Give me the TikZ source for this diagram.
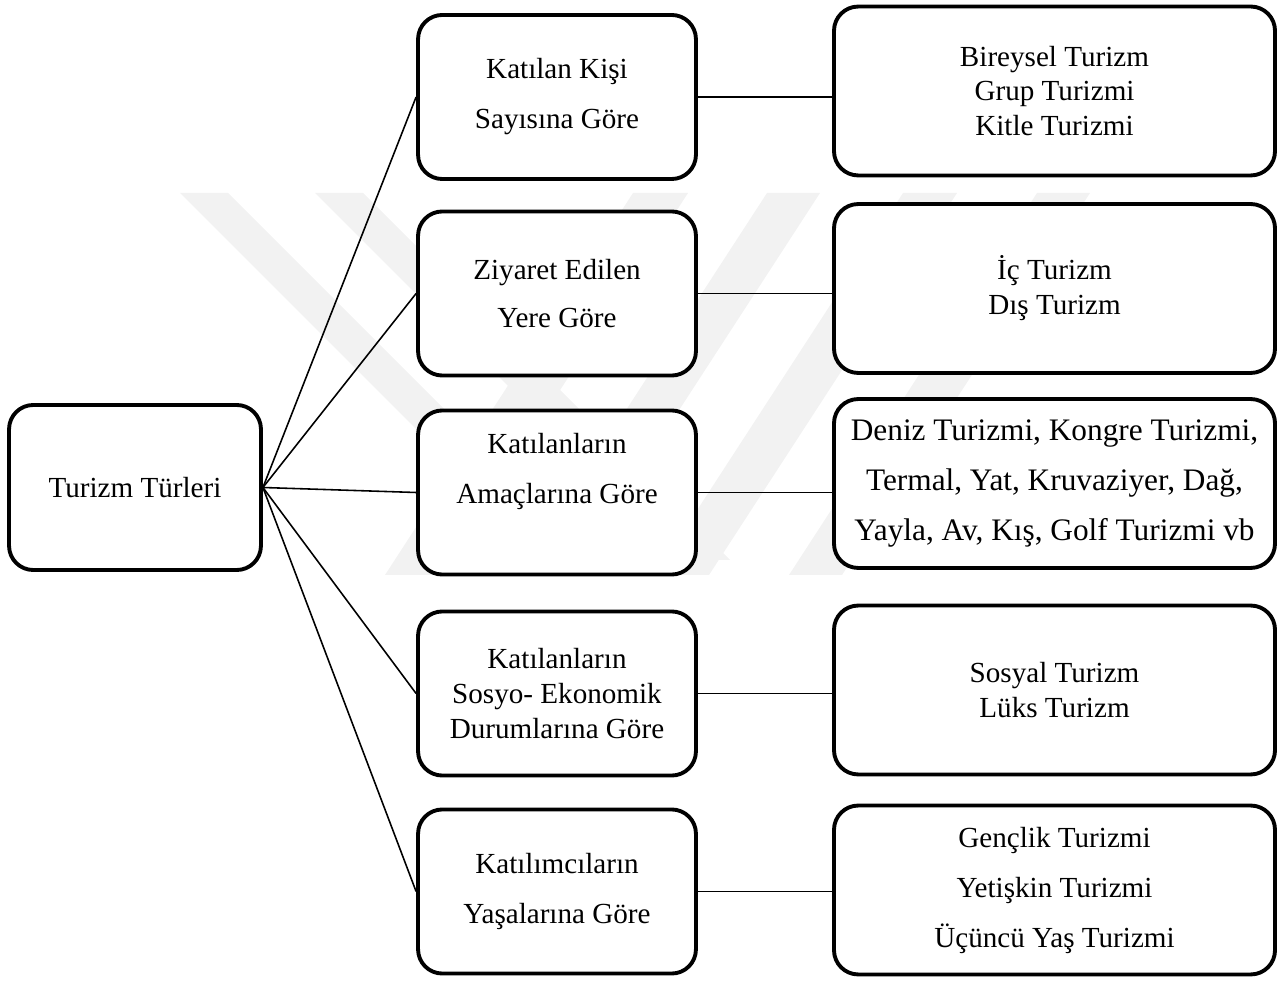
\documentclass[tikz,border=0pt]{standalone}
\usepackage{fontspec}
\setmainfont{Liberation Serif}
\usetikzlibrary{shapes,arrows,positioning,calc}

\tikzset{
  box/.style={draw, rectangle, rounded corners=10pt, line width=1.6pt, fill=white, align=center, inner sep=2pt},
  rootbox/.style={box, minimum width=103.8pt, minimum height=68pt},
  midbox/.style={box, minimum width=114.5pt, minimum height=67.6pt},
  sidebox/.style={box, minimum width=181.7pt, minimum height=69.6pt},
  wide/.style={font=\fontsize{12}{20.6}\selectfont},
  tight/.style={font=\fontsize{12}{14.4}\selectfont},
  link/.style={line width=0.65pt},
  wmark/.style={fill=black!5, draw=none}
}

\begin{document}
\begin{tikzpicture}[x=0.412pt, y=-0.412pt]

\useasboundingbox (0,0) rectangle (1279,981);

% faint watermark behind the boxes
\fill[wmark] (180,193) -- (228,193) -- (595,560) -- (547,560) -- cycle;
\fill[wmark] (315,193) -- (363,193) -- (730,560) -- (682,560) -- cycle;
\fill[wmark] (633,193) -- (688,193) -- (440,575) -- (385,575) -- cycle;
\fill[wmark] (767,193) -- (820,193) -- (572,575) -- (519,575) -- cycle;
\fill[wmark] (903,193) -- (957,193) -- (709,575) -- (655,575) -- cycle;
\fill[wmark] (1037,193) -- (1090,193) -- (842,575) -- (789,575) -- cycle;

\node[rootbox, wide] (root) at (135,487.5) {Turizm Türleri};

\node[midbox, wide] (kisi) at (557,97) {Katılan Kişi\\Sayısına Göre};
\node[midbox, font=\fontsize{12}{19.8}\selectfont] (yer) at (557,293.5) {Ziyaret Edilen\\Yere Göre};
\node[midbox, wide, text depth=20pt] (amac) at (557,492.5) {Katılanların\\Amaçlarına Göre};
\node[midbox, tight] (sosyo) at (557,693.5) {Katılanların\\Sosyo- Ekonomik\\Durumlarına Göre};
\node[midbox, wide] (yas) at (557,891.5) {Katılımcıların\\Yaşalarına Göre};

\node[sidebox, tight] (bireysel) at (1054.5,91) {Bireysel Turizm\\Grup Turizmi\\Kitle Turizmi};
\node[sidebox, tight] (ic) at (1054.5,288.5) {İç Turizm\\Dış Turizm};
\node[sidebox, font=\fontsize{12.9}{20.6}\selectfont] (deniz) at (1054.5,483.5) {Deniz Turizmi, Kongre Turizmi,\\Termal, Yat, Kruvaziyer, Dağ,\\Yayla, Av, Kış, Golf Turizmi vb};
\node[sidebox, tight] (sosyal) at (1054.5,690) {Sosyal Turizm\\Lüks Turizm};
\node[sidebox, wide] (genclik) at (1054.5,890) {Gençlik Turizmi\\Yetişkin Turizmi\\Üçüncü Yaş Turizmi};

\draw[link] (root.east) -- (kisi.west);
\draw[link] (root.east) -- (yer.west);
\draw[link] (root.east) -- (amac.west);
\draw[link] (root.east) -- (sosyo.west);
\draw[link] (root.east) -- (yas.west);

\draw[link] (kisi.east) -- (kisi.east -| bireysel.west);
\draw[link] (yer.east) -- (yer.east -| ic.west);
\draw[link] (amac.east) -- (amac.east -| deniz.west);
\draw[link] (sosyo.east) -- (sosyo.east -| sosyal.west);
\draw[link] (yas.east) -- (yas.east -| genclik.west);

\end{tikzpicture}
\end{document}
